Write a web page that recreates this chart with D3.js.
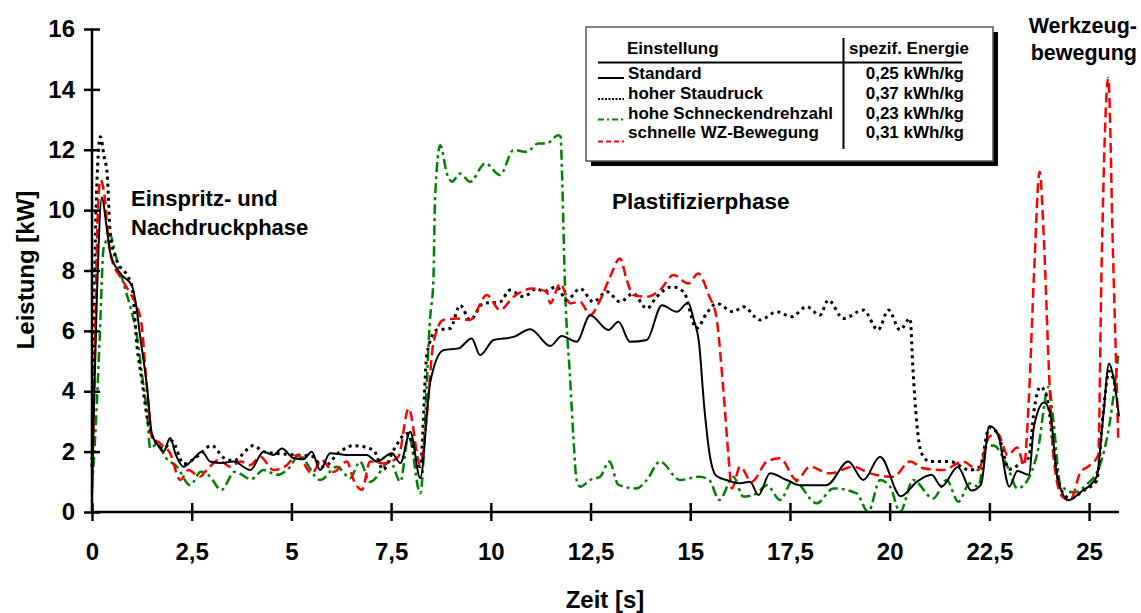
<!DOCTYPE html>
<html>
<head>
<meta charset="utf-8">
<script src="https://cdn.jsdelivr.net/npm/d3@7"></script>
<style>
  body { margin: 0; background: #fff; }
  text { font-family: "Liberation Sans", Arial, sans-serif; font-weight: bold; }
</style>
</head>
<body>
<script>
// Zeit [s] / Leistung [kW] pairs
var standard = [[0,0.8],[0.05,3.5],[0.12,7.0],[0.25,10.43],[0.35,9.6],[0.46,8.57],[0.71,7.9],[1.0,7.5],[1.1,6.9],[1.21,5.8],[1.38,4.15],[1.5,2.6],[1.66,2.2],[1.79,2.0],[1.96,2.45],[2.1,1.9],[2.29,1.5],[2.5,1.7],[2.76,2.0],[2.96,1.67],[3.25,1.62],[3.55,1.67],[3.97,1.39],[4.3,2.0],[4.55,1.89],[4.76,2.1],[5.05,1.79],[5.3,1.75],[5.51,2.0],[5.72,1.39],[5.97,1.95],[6.39,1.89],[6.89,1.89],[7.14,1.67],[7.52,1.95],[7.73,1.62],[7.98,2.66],[8.23,1.12],[8.48,4.3],[8.81,5.36],[9.19,5.42],[9.52,5.75],[9.73,5.2],[10.07,5.7],[10.57,5.8],[10.99,6.05],[11.49,5.5],[11.78,5.83],[12.15,5.64],[12.49,6.52],[12.95,6.03],[13.2,6.3],[13.49,5.64],[13.91,5.7],[14.29,6.85],[14.66,6.63],[14.95,6.93],[15.08,6.4],[15.22,5.6],[15.35,3.5],[15.5,1.8],[15.65,1.2],[15.91,1.06],[16.25,0.95],[16.5,1.0],[16.71,0.56],[17.0,1.28],[17.42,1.06],[17.75,0.89],[18.42,0.89],[18.96,1.67],[19.34,1.06],[19.76,1.83],[20.28,0.52],[20.68,1.0],[21.05,1.23],[21.3,0.84],[21.71,1.49],[22.05,0.71],[22.29,0.91],[22.5,2.85],[22.71,2.59],[23.0,0.84],[23.2,1.36],[23.49,1.23],[23.62,2.85],[23.87,3.63],[24.03,3.24],[24.2,1.17],[24.49,0.39],[24.78,0.65],[25.19,1.17],[25.36,3.24],[25.5,4.92],[25.6,4.53],[25.75,3.17]];

var hoherStaudruck = [[0,1.5],[0.05,6],[0.1,10],[0.21,12.43],[0.3,11.8],[0.38,11.2],[0.46,9.2],[0.6,8.4],[0.9,7.8],[1.0,7.5],[1.13,5.47],[1.25,4.37],[1.4,3.0],[1.6,2.3],[1.8,2.1],[2.0,2.35],[2.3,1.6],[2.6,1.8],[3.0,2.2],[3.3,1.8],[3.55,1.7],[4.05,2.2],[4.3,2.0],[5.0,1.9],[5.5,1.85],[5.8,1.5],[6.22,2.0],[6.55,2.2],[7.06,2.05],[7.3,1.4],[7.56,2.05],[7.9,2.6],[8.23,1.5],[8.4,5.26],[8.65,6.03],[8.98,6.08],[9.23,6.85],[9.48,6.36],[9.81,6.91],[10.23,6.96],[10.48,7.35],[10.82,7.13],[11.15,7.4],[11.32,7.3],[11.65,7.46],[11.9,7.02],[12.24,7.4],[12.57,6.96],[12.91,7.3],[13.24,6.96],[13.57,7.24],[13.91,6.74],[14.16,7.13],[14.54,7.46],[14.83,7.3],[15.16,6.08],[15.41,6.58],[15.66,6.91],[16.08,6.63],[16.33,6.8],[16.75,6.36],[17.17,6.63],[17.54,6.47],[17.92,6.8],[18.25,6.52],[18.46,7.02],[18.84,6.41],[19.34,6.69],[19.71,6.03],[19.97,6.69],[20.26,6.03],[20.51,6.41],[20.59,4.59],[20.68,2.94],[20.8,1.94],[21.01,1.67],[21.51,1.67],[22.01,1.39],[22.26,1.5],[22.5,2.8],[22.71,2.59],[23.0,1.42],[23.29,1.62],[23.49,1.81],[23.62,3.37],[23.78,4.15],[23.95,3.76],[24.11,2.07],[24.28,0.78],[24.53,0.45],[24.86,0.71],[25.19,1.04],[25.36,3.37],[25.5,4.66],[25.69,4.02]];

var hoheDrehzahl = [[0,0.8],[0.1,3.0],[0.2,6.0],[0.29,8.73],[0.46,9.17],[0.58,8.57],[0.79,7.57],[0.96,6.8],[1.13,5.8],[1.25,4.59],[1.38,3.27],[1.46,2.11],[1.63,2.25],[1.86,1.78],[2.13,1.5],[2.46,0.89],[2.73,1.33],[2.94,1.2],[3.24,0.73],[3.58,1.33],[3.99,1.09],[4.3,1.39],[4.64,1.23],[4.97,1.5],[5.18,1.89],[5.72,1.06],[6.14,1.5],[6.47,1.12],[6.72,1.67],[6.97,1.0],[7.48,1.67],[7.73,1.0],[7.94,2.55],[8.23,0.62],[8.48,6.47],[8.56,7.68],[8.6,10.33],[8.73,12.15],[8.9,11.21],[9.02,10.94],[9.23,11.21],[9.48,10.94],[9.86,11.55],[10.23,11.16],[10.57,11.99],[10.9,11.93],[11.19,12.21],[11.4,12.21],[11.69,12.48],[11.75,12.43],[11.78,11.43],[11.86,7.46],[11.99,4.37],[12.07,2.49],[12.15,1.06],[12.24,0.84],[12.49,1.06],[12.74,1.17],[12.97,1.67],[13.2,0.9],[13.65,0.78],[13.91,1.06],[14.24,1.67],[14.74,1.06],[15.23,1.17],[15.48,1.05],[15.73,0.4],[16.08,1.17],[16.33,0.51],[16.67,0.62],[16.92,0.89],[17.25,0.4],[17.58,1.06],[18.17,0.29],[18.59,0.78],[19.17,0.62],[19.46,0.0],[19.76,1.06],[20.01,0.84],[20.26,0.0],[20.59,1.06],[21.09,0.45],[21.43,1.06],[21.72,0.34],[22.01,0.95],[22.22,0.84],[22.43,2.16],[22.6,2.2],[22.96,1.49],[23.2,0.78],[23.45,1.04],[23.7,1.94],[23.99,4.15],[24.11,2.98],[24.28,0.91],[24.61,0.65],[24.94,0.91],[25.27,1.55],[25.52,2.98],[25.73,5.18]];

var schnelleWZ = [[0,0.6],[0.07,5],[0.13,9.2],[0.21,11.0],[0.33,10.3],[0.38,9.45],[0.5,8.34],[0.71,7.79],[0.96,7.24],[1.13,6.8],[1.25,6.14],[1.34,4.7],[1.42,3.49],[1.5,2.49],[1.71,2.27],[1.96,1.94],[2.21,1.06],[2.42,1.39],[2.7,1.17],[2.88,1.39],[3.17,1.72],[3.47,1.5],[3.72,1.67],[3.97,1.56],[4.22,1.83],[4.55,1.39],[4.89,1.56],[5.14,1.89],[5.51,1.28],[5.76,1.72],[6.06,1.33],[6.39,1.67],[6.56,1.06],[6.77,0.73],[6.97,1.67],[7.31,1.61],[7.68,1.83],[7.94,3.43],[8.23,1.56],[8.4,3.27],[8.56,5.6],[8.81,6.36],[9.15,6.41],[9.48,6.36],[9.9,7.19],[10.23,6.69],[10.57,7.13],[11.03,7.4],[11.4,7.3],[11.49,6.91],[11.74,7.57],[11.99,6.91],[12.24,6.96],[12.49,6.52],[12.74,7.02],[12.99,7.79],[13.24,8.4],[13.41,7.68],[13.57,7.19],[13.91,7.13],[14.24,7.35],[14.58,7.85],[14.95,7.57],[15.2,7.9],[15.48,7.13],[15.65,6.5],[15.83,4.04],[15.96,1.83],[16.04,0.78],[16.25,1.5],[16.54,1.0],[16.92,1.67],[17.25,1.78],[17.67,1.06],[18.0,1.5],[18.5,1.28],[19.09,1.5],[19.51,1.28],[20.09,1.17],[20.51,1.67],[20.84,1.45],[21.34,1.39],[21.84,1.67],[22.22,1.39],[22.5,2.5],[22.71,2.59],[22.96,1.88],[23.2,2.14],[23.37,1.55],[23.49,3.76],[23.62,7.9],[23.76,11.27],[23.87,8.94],[23.99,4.79],[24.11,1.81],[24.32,0.52],[24.53,0.39],[24.78,1.3],[25.02,1.55],[25.23,1.88],[25.31,7.9],[25.48,14.38],[25.6,8.55],[25.73,2.46]];

var seriesNames = ["Standard", "hoher Staudruck", "hohe Schneckendrehzahl", "schnelle WZ-Bewegung"];
var energyLabels = ["0,25 kWh/kg", "0,37 kWh/kg", "0,23 kWh/kg", "0,31 kWh/kg"];
var xTicks = [0, 2.5, 5, 7.5, 10, 12.5, 15, 17.5, 20, 22.5, 25];
var yTicks = [0, 2, 4, 6, 8, 10, 12, 14, 16];

var width = 1141, height = 613;
var margin = {top: 29, right: 22, bottom: 101, left: 92};

var svg = d3.select("body").append("svg")
    .attr("width", width)
    .attr("height", height);

var x = d3.scaleLinear().domain([0, 25.75]).range([margin.left, width - margin.right]);
var y = d3.scaleLinear().domain([0, 16]).range([height - margin.bottom, margin.top]);

// line styles, same order as seriesNames
var styles = [
    {color: "#000", dash: null, w: 2},
    {color: "#000", dash: "3,4", w: 3},
    {color: "#008000", dash: "10,4,3,4", w: 2.5},
    {color: "#ff0000", dash: "10,5", w: 2.5}
];
var allSeries = [standard, hoherStaudruck, hoheDrehzahl, schnelleWZ];

var line = d3.line()
    .x(function (d) { return x(d[0]); })
    .y(function (d) { return y(d[1]); })
    .curve(d3.curveMonotoneX);

// draw order: green, dotted, red, black on top
[2, 1, 3, 0].forEach(function (i) {
    svg.append("path")
        .attr("d", line(allSeries[i]))
        .attr("fill", "none")
        .attr("stroke", styles[i].color)
        .attr("stroke-width", styles[i].w)
        .attr("stroke-dasharray", styles[i].dash)
        .attr("stroke-linejoin", "round");
});

// axes - ticks cross the axis line
var yAxis = svg.append("g")
    .attr("transform", "translate(" + margin.left + ",0)")
    .call(d3.axisLeft(y).tickValues(yTicks).tickSize(8).tickPadding(9));
yAxis.selectAll(".tick line").attr("x1", 8).attr("stroke-width", 2.5);
yAxis.select(".domain").attr("stroke-width", 2.5).attr("d", "M0," + y(0) + "V" + y(16));
yAxis.selectAll(".tick text")
    .attr("font-size", 24).attr("font-weight", "bold").attr("fill", "#000")
    .attr("font-family", "Liberation Sans, Arial, sans-serif");

var xAxis = svg.append("g")
    .attr("transform", "translate(0," + y(0) + ")")
    .call(d3.axisBottom(x).tickValues(xTicks).tickSize(9)
        .tickFormat(function (d) { return String(d).replace(".", ","); }));
xAxis.selectAll(".tick line").attr("y1", -9).attr("stroke-width", 2.5);
xAxis.select(".domain").attr("stroke-width", 2.5).attr("d", "M" + x(0) + ",0H" + x(25.75));
xAxis.selectAll(".tick text")
    .attr("y", 31)
    .attr("font-size", 24).attr("font-weight", "bold").attr("fill", "#000")
    .attr("font-family", "Liberation Sans, Arial, sans-serif");

// axis titles
svg.append("text")
    .attr("x", 605)
    .attr("y", 608)
    .attr("text-anchor", "middle")
    .attr("font-size", 24)
    .text("Zeit [s]");

svg.append("text")
    .attr("transform", "translate(34,270) rotate(-90)")
    .attr("text-anchor", "middle")
    .attr("font-size", 24)
    .text("Leistung [kW]");

// phase annotations
svg.append("text").attr("x", 131).attr("y", 206).attr("font-size", 22).text("Einspritz- und");
svg.append("text").attr("x", 131).attr("y", 235).attr("font-size", 22).text("Nachdruckphase");
svg.append("text").attr("x", 612).attr("y", 209).attr("font-size", 22.5).text("Plastifizierphase");
svg.append("text").attr("x", 1137).attr("y", 33).attr("text-anchor", "end").attr("font-size", 21.5).text("Werkzeug-");
svg.append("text").attr("x", 1137).attr("y", 60).attr("text-anchor", "end").attr("font-size", 21.5).text("bewegung");

// legend table with shadow
var lg = svg.append("g");
lg.append("rect").attr("x", 591).attr("y", 32).attr("width", 407).attr("height", 134).attr("fill", "#000");
lg.append("rect").attr("x", 586).attr("y", 27).attr("width", 407).attr("height", 134)
    .attr("fill", "#fff").attr("stroke", "#555").attr("stroke-width", 1.5);
lg.append("line").attr("x1", 598).attr("x2", 962).attr("y1", 62.5).attr("y2", 62.5)
    .attr("stroke", "#000").attr("stroke-width", 2);
lg.append("line").attr("x1", 843.5).attr("x2", 843.5).attr("y1", 38).attr("y2", 149)
    .attr("stroke", "#000").attr("stroke-width", 2);
lg.append("text").attr("x", 627).attr("y", 54).attr("font-size", 17).text("Einstellung");
lg.append("text").attr("x", 849).attr("y", 54).attr("font-size", 17).text("spezif. Energie");

var rowY = [79, 99, 119, 138];
var sampleY = [78, 99, 119.5, 141.5];
var sampleDash = [null, "2,1.5", "6,3,2,3", "5,3"];
seriesNames.forEach(function (name, i) {
    lg.append("line")
        .attr("x1", 598).attr("x2", 624)
        .attr("y1", sampleY[i]).attr("y2", sampleY[i])
        .attr("stroke", styles[i].color)
        .attr("stroke-width", 2)
        .attr("stroke-dasharray", sampleDash[i]);
    lg.append("text").attr("x", 628).attr("y", rowY[i]).attr("font-size", 17).text(name);
    lg.append("text").attr("x", 964).attr("y", rowY[i]).attr("text-anchor", "end")
        .attr("font-size", 17).text(energyLabels[i]);
});
</script>
</body>
</html>
